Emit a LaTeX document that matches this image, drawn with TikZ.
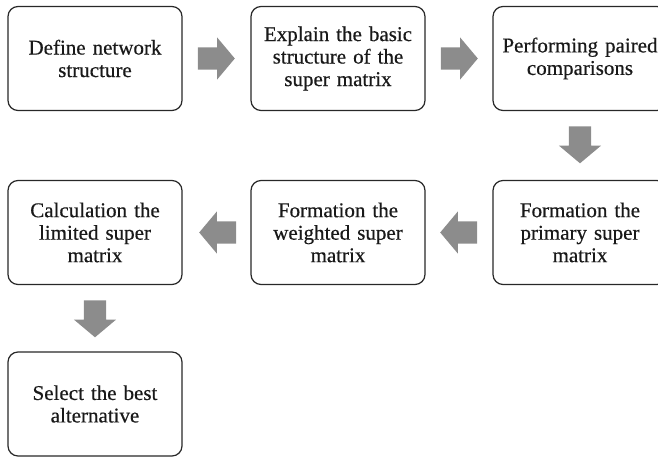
\documentclass[tikz,border=0pt]{standalone}
\usepackage{fontspec}
\setmainfont{Liberation Serif}[FakeBold=0.5]
\usetikzlibrary{shapes.arrows,calc}
\definecolor{arrowgray}{RGB}{140,140,140}
\definecolor{boxline}{RGB}{40,40,40}
\begin{document}
\begin{tikzpicture}[x=1pt,y=-1pt,
 stepbox/.style={draw=boxline, line width=1.2pt, rounded corners=10pt, minimum width=174pt, minimum height=104pt, align=center, font=\fontsize{21}{22.5}\selectfont, text=black!90, inner sep=0pt, text width=172pt},
 blockarrow/.style={single arrow, fill=arrowgray, draw=none, inner sep=11pt, single arrow head extend=10pt, minimum height=37pt, single arrow tip angle=100, anchor=tail}]
\useasboundingbox (0,0) rectangle (658,457);
\clip (0,0) rectangle (658,457);
\node[stepbox] (b1) at (95,58.5) {Define network\\structure};
\node[stepbox] (b2) at (338,58.5) {Explain the basic\\structure of the\\super matrix};
\node[stepbox] (b3) at (580,58.5) {Performing paired\\comparisons};
\node[stepbox] (b6) at (580,232.5) {Formation the\\primary super\\matrix};
\node[stepbox] (b5) at (338,232.5) {Formation the\\weighted super\\matrix};
\node[stepbox] (b4) at (95,232.5) {Calculation the\\limited super\\matrix};
\node[stepbox] (b7) at (95,404) {Select the best\\alternative};
\node[blockarrow] (a1) at ($(b1.east)+(15,0)$) {};
\node[blockarrow] (a2) at ($(b2.east)+(15,0)$) {};
\node[blockarrow, shape border rotate=270] (a3) at ($(b3.south)+(0,15)$) {};
\node[blockarrow, shape border rotate=180] (a4) at ($(b6.west)+(-15,0)$) {};
\node[blockarrow, shape border rotate=180] (a5) at ($(b5.west)+(-14,0)$) {};
\node[blockarrow, shape border rotate=270] (a6) at ($(b4.south)+(0,15)$) {};
\end{tikzpicture}
\end{document}
